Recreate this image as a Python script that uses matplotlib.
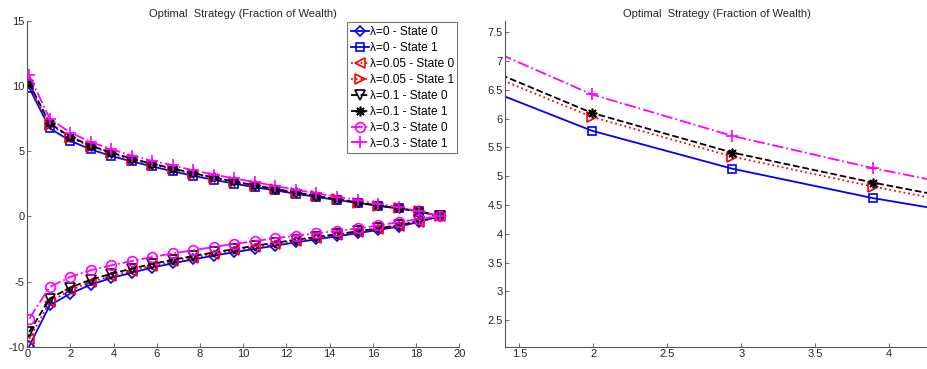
import numpy as np
import matplotlib
matplotlib.use('Agg')
import matplotlib.pyplot as plt
from matplotlib.ticker import FormatStrFormatter

plt.rcParams['font.family'] = ['Liberation Sans', 'DejaVu Sans']
plt.rcParams['font.size'] = 8

# time grid
t = [0.09, 1.04, 1.99, 2.94, 3.89, 4.84, 5.79, 6.74, 7.69, 8.64, 9.59,
     10.54, 11.49, 12.44, 13.39, 14.34, 15.29, 16.24, 17.19, 18.14, 19.09]

# State 0 (lower branch)
l0_s0 = [-9.95, -6.82, -5.93, -5.24, -4.73, -4.32, -3.93, -3.60, -3.30, -3.02, -2.75,
         -2.50, -2.25, -2.00, -1.76, -1.53, -1.29, -1.05, -0.79, -0.43, 0.0]
l05_s0 = [-9.40, -6.57, -5.67, -5.04, -4.58, -4.16, -3.79, -3.46, -3.16, -2.88, -2.62,
          -2.36, -2.12, -1.89, -1.66, -1.44, -1.21, -0.98, -0.73, -0.40, 0.0]
l1_s0 = [-8.87, -6.31, -5.47, -4.86, -4.40, -4.01, -3.65, -3.33, -3.04, -2.77, -2.51,
         -2.26, -2.02, -1.80, -1.58, -1.37, -1.15, -0.92, -0.68, -0.36, 0.0]
l3_s0 = [-7.85, -5.42, -4.65, -4.14, -3.76, -3.43, -3.12, -2.84, -2.60, -2.35, -2.12,
         -1.90, -1.68, -1.48, -1.30, -1.12, -0.93, -0.70, -0.45, -0.20, 0.0]

# State 1 (upper branch)
l0_s1 = [9.85, 6.75, 5.79, 5.13, 4.62, 4.21, 3.82, 3.45, 3.10, 2.80, 2.50,
         2.23, 1.98, 1.73, 1.48, 1.25, 1.03, 0.80, 0.60, 0.38, 0.0]
l05_s1 = [10.05, 7.03, 6.03, 5.34, 4.82, 4.35, 3.97, 3.60, 3.25, 2.93, 2.62,
          2.34, 2.07, 1.80, 1.54, 1.29, 1.05, 0.82, 0.61, 0.39, 0.0]
l1_s1 = [10.20, 7.12, 6.10, 5.41, 4.89, 4.42, 4.03, 3.66, 3.30, 2.98, 2.67,
         2.38, 2.10, 1.83, 1.56, 1.31, 1.07, 0.83, 0.62, 0.39, 0.0]
l3_s1 = [10.80, 7.49, 6.42, 5.70, 5.14, 4.65, 4.25, 3.90, 3.52, 3.20, 2.90,
         2.62, 2.32, 2.03, 1.76, 1.50, 1.24, 0.97, 0.69, 0.38, 0.0]

labels = ['λ=0 - State 0', 'λ=0 - State 1', 'λ=0.05 - State 0', 'λ=0.05 - State 1',
          'λ=0.1 - State 0', 'λ=0.1 - State 1', 'λ=0.3 - State 0', 'λ=0.3 - State 1']
series = [l0_s0, l0_s1, l05_s0, l05_s1, l1_s0, l1_s1, l3_s0, l3_s1]
# colour, linestyle, marker, markersize
styles = [('#0000ff', '-', 'D', 5.0), ('#0000ff', '-', 's', 5.5),
          ('#ff0000', ':', '<', 7), ('#ff0000', ':', '>', 7),
          ('#000000', '--', 'v', 7), ('#000000', '--', (8, 2, 0), 7),
          ('#ff00ff', '-.', 'o', 7), ('#ff00ff', '-.', '+', 8)]

title = 'Optimal  Strategy (Fraction of Wealth)'
axcol = '#262626'

fig = plt.figure(figsize=(9.28, 3.69), dpi=100)
ax1 = fig.add_axes([0.0294, 0.0604, 0.4655, 0.8835])
ax2 = fig.add_axes([0.5445, 0.0604, 0.4552, 0.8835])

for ax in (ax1, ax2):
    for ys, lab, (c, ls, mk, ms) in zip(series, labels, styles):
        ax.plot(t, ys, color=c, linestyle=ls, marker=mk, markersize=ms,
                markerfacecolor='none', markeredgecolor=c, markeredgewidth=1.2,
                linewidth=1.3, label=lab)
    ax.set_title(title, fontsize=8, color=axcol, pad=3)
    ax.spines['top'].set_visible(False)
    ax.spines['right'].set_visible(False)
    for s in ('left', 'bottom'):
        ax.spines[s].set_color('#555555')
        ax.spines[s].set_linewidth(0.8)
    ax.tick_params(direction='in', length=3, width=0.6, colors='#555555',
                   labelcolor=axcol, labelsize=8, pad=2)
    ax.yaxis.set_major_formatter(FormatStrFormatter('%g'))
    ax.xaxis.set_major_formatter(FormatStrFormatter('%g'))

ax1.set_xlim(0, 20)
ax1.set_ylim(-10, 15)
ax1.set_xticks(np.arange(0, 21, 2))
ax1.set_yticks(np.arange(-10, 16, 5))
leg = ax1.legend(loc='upper right', fontsize=8.6, handlelength=1.5, handletextpad=0.1,
                 borderaxespad=0.15, borderpad=0.3, labelspacing=0.33,
                 fancybox=False, framealpha=1)
leg.get_frame().set_edgecolor('#777777')
leg.get_frame().set_linewidth(0.8)

ax2.set_xlim(1.405, 4.26)
ax2.set_ylim(2.04, 7.70)
ax2.set_xticks(np.arange(1.5, 4.01, 0.5))
ax2.set_yticks(np.arange(2.5, 7.51, 0.5))

fig.savefig('out.png', dpi=100)
